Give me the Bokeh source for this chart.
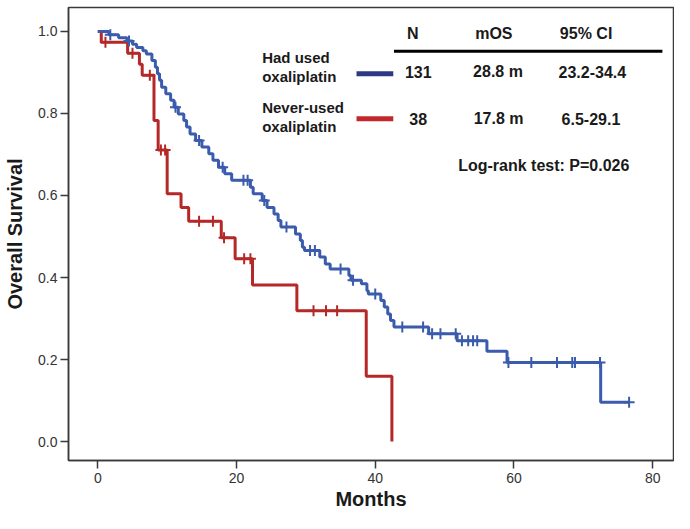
import numpy as np
from bokeh.plotting import figure
from bokeh.models import Range1d, FixedTicker, NumeralTickFormatter
from bokeh.core.properties import value
from bokeh.embed import file_html
from bokeh.resources import INLINE

# ---------------- data ----------------
blue_event_t = [1.6, 3.0, 4.2, 5.0, 5.6, 6.5, 7.0, 7.8, 8.3, 8.6, 8.9, 9.2, 9.8, 10.5,
                11.0, 11.6, 12.4, 12.8, 13.3, 14.1, 15.0, 16.0, 16.6, 17.4, 18.3, 19.3,
                22.0, 22.4, 23.7, 24.4, 25.4, 26.0, 26.4, 28.5, 29.2, 29.5, 29.8, 32.0,
                32.8, 33.5, 36.2, 36.5, 38.0, 38.8, 39.0, 40.8, 41.3, 41.8, 42.2, 42.7,
                47.7, 51.8, 56.1, 59.0, 72.5]
blue_event_s = [0.992, 0.985, 0.977, 0.969, 0.961, 0.953, 0.945, 0.929, 0.913, 0.897,
                0.881, 0.864, 0.848, 0.832, 0.815, 0.799, 0.783, 0.767, 0.750, 0.734,
                0.718, 0.702, 0.686, 0.669, 0.653, 0.637, 0.620, 0.604, 0.588, 0.571,
                0.555, 0.539, 0.523, 0.506, 0.490, 0.474, 0.466, 0.450, 0.433, 0.421,
                0.405, 0.393, 0.385, 0.368, 0.360, 0.344, 0.328, 0.311, 0.295, 0.279,
                0.263, 0.246, 0.220, 0.193, 0.096]
blue_censor_t = [1.8, 4.5, 11.2, 14.6, 18.0, 21.0, 21.6, 24.0, 27.2, 30.6, 31.3, 35.0,
                 36.8, 40.0, 43.9, 46.9, 48.2, 49.4, 51.6, 52.5, 53.4, 54.1, 54.7, 59.2,
                 62.5, 66.2, 68.4, 68.8, 72.4, 76.6]

red_event_t = [0.5, 4.3, 6.0, 6.4, 8.1, 8.7, 10.0, 12.0, 13.1, 17.8, 19.8, 22.3, 28.7, 38.7, 42.4]
red_event_s = [0.974, 0.947, 0.920, 0.893, 0.783, 0.711, 0.604, 0.571, 0.537, 0.497,
               0.446, 0.382, 0.319, 0.159, 0.0]
red_censor_t = [1.1, 5.0, 7.5, 9.1, 9.7, 14.6, 16.6, 18.2, 21.1, 22.0, 31.1, 32.9, 34.5]

x_ticks = [0, 20, 40, 60, 80]
y_ticks = [0.0, 0.2, 0.4, 0.6, 0.8, 1.0]

table_headers = ["N", "mOS", "95% CI"]
group_names = [["Had used", "oxaliplatin"], ["Never-used", "oxaliplatin"]]
group_n = ["131", "38"]
group_mos = ["28.8 m", "17.8  m"]
group_ci = ["23.2-34.4", "6.5-29.1"]
logrank_text = "Log-rank test: P=0.026"

# ---------------- styles ----------------
BLUE = "#3B5BAC"
RED = "#B42828"
LEG_BLUE = "#2C3A86"
LEG_RED = "#C0282C"
FONT = "Liberation Sans"
INK = "#1a1a1a"
AXC = "#3a3a3a"


def surv_at(t, ev_t, ev_s):
    idx = int(np.searchsorted(np.array(ev_t), t, side="right"))
    return 1.0 if idx == 0 else ev_s[idx - 1]


p = figure(width=674, height=513,
           x_range=Range1d(-4.225, 83.0), y_range=Range1d(-0.0463, 1.0585),
           output_backend="svg", toolbar_location=None,
           min_border_left=68, min_border_right=1, min_border_top=7, min_border_bottom=53)

p.xgrid.visible = False
p.ygrid.visible = False
p.outline_line_color = AXC
p.outline_line_width = 1.5
p.background_fill_color = "white"
p.border_fill_color = "white"

for ax in (p.xaxis[0], p.yaxis[0]):
    ax.axis_line_color = AXC
    ax.axis_line_width = 1.5
    ax.major_tick_line_color = AXC
    ax.major_tick_line_width = 1.5
    ax.major_tick_in = 0
    ax.major_tick_out = 8
    ax.minor_tick_line_color = None
    ax.major_label_text_font = FONT
    ax.major_label_text_font_size = "14px"
    ax.major_label_text_color = "#333333"
    ax.axis_label_text_font = FONT
    ax.axis_label_text_font_style = "bold"
    ax.axis_label_text_color = INK

p.xaxis.ticker = FixedTicker(ticks=x_ticks)
p.yaxis.ticker = FixedTicker(ticks=y_ticks)
p.yaxis.formatter = NumeralTickFormatter(format="0.0")
p.xaxis.axis_label = "Months"
p.yaxis.axis_label = "Overall Survival"
p.xaxis.axis_label_text_font_size = "20px"
p.yaxis.axis_label_text_font_size = "20px"
p.xaxis.major_label_standoff = 4
p.yaxis.major_label_standoff = 3
p.xaxis.axis_label_standoff = 2
p.yaxis.axis_label_standoff = 9

# curves
for ev_t, ev_s, cens, color, end_t in (
        (red_event_t, red_event_s, red_censor_t, RED, None),
        (blue_event_t, blue_event_s, blue_censor_t, BLUE, max(blue_censor_t))):
    xs = [0.0] + list(ev_t)
    ys = [1.0] + list(ev_s)
    if end_t is not None and end_t > xs[-1]:
        xs.append(end_t)
        ys.append(ys[-1])
    p.step(x=xs, y=ys, mode="after", line_color=color, line_width=3)
    cy = [surv_at(t, ev_t, ev_s) for t in cens]
    p.scatter(x=cens, y=cy, marker="cross", size=11, line_color=color, line_width=2)

# ---------------- table / legend ----------------
hdr_x = [45.4, 57.1, 70.4]
hdr_y = 0.994
p.text(x=hdr_x, y=[hdr_y] * 3, text=table_headers, text_font=value(FONT),
       text_font_style="bold", text_font_size="16px", text_align="center",
       text_baseline="middle", text_color=INK)
p.line(x=[42.7, 81.4], y=[0.952, 0.952], line_color="black", line_width=3)

row_y = [0.902, 0.787]
p.text(x=[46.2, 46.2], y=row_y, text=group_n, text_font=value(FONT), text_font_style="bold",
       text_font_size="16px", text_align="center", text_baseline="middle", text_color=INK)
p.text(x=[57.7, 58.1], y=row_y, text=group_mos, text_font=value(FONT), text_font_style="bold",
       text_font_size="16px", text_align="center", text_baseline="middle", text_color=INK)
p.text(x=[71.3, 71.1], y=row_y, text=group_ci, text_font=value(FONT), text_font_style="bold",
       text_font_size="16px", text_align="center", text_baseline="middle", text_color=INK)

name_y = [[0.937, 0.891], [0.815, 0.769]]
for names, ys in zip(group_names, name_y):
    p.text(x=[23.7, 23.7], y=ys, text=names, text_font=value(FONT), text_font_style="bold",
           text_font_size="15px", text_align="left", text_baseline="middle", text_color=INK)

p.line(x=[37.3, 42.6], y=[0.897, 0.897], line_color=LEG_BLUE, line_width=5)
p.line(x=[37.3, 42.6], y=[0.787, 0.787], line_color=LEG_RED, line_width=5)

p.text(x=[64.3], y=[0.673], text=[logrank_text], text_font=value(FONT), text_font_style="bold",
       text_font_size="16px", text_align="center", text_baseline="middle", text_color=INK)

open("out.html", "w").write(file_html(p, INLINE))
